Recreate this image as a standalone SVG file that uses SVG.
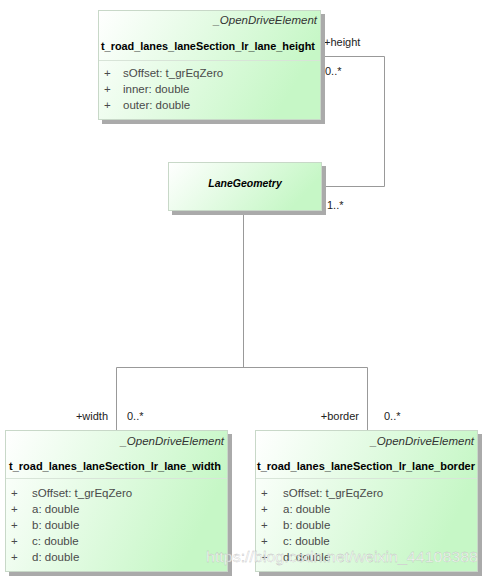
<svg xmlns="http://www.w3.org/2000/svg" width="489" height="578" viewBox="0 0 489 578">
<style>
text{font-family:"Liberation Sans",Arial,sans-serif;font-size:10.5px;fill:#222}
.st{font-style:italic;text-anchor:end;fill:#333;font-size:11.5px}
.nm{font-weight:bold;fill:#000}
.at{fill:#4a4a4a;font-size:11.5px}
.lbl{fill:#222;font-size:11px}
.box{fill:url(#g);stroke:#c8d8c8;stroke-width:1}
.sh{fill:#aaaaaa}
.sep{stroke:#d8e4d8;stroke-width:1}
.con{fill:none;stroke:#999;stroke-width:1}
.wm{fill:#ffffff;fill-opacity:0.75;font-size:15px;stroke:#bbb;stroke-width:0.3}
</style>
<defs>
<linearGradient id="g" x1="0" y1="0" x2="1" y2="0.3">
<stop offset="0" stop-color="#ffffff"/>
<stop offset="1" stop-color="#c6f7c6"/>
</linearGradient>
</defs>
<rect width="489" height="578" fill="#fff"/>
<g id="connectors">
<polyline class="con" points="321.5,56.5 384.5,56.5 384.5,186.5 322,186.5"/>
<polyline class="con" points="243.5,212 243.5,367.5"/>
<polyline class="con" points="116.5,430 116.5,367.5 367.5,367.5 367.5,430"/>
<text x="324" y="46" class="lbl">+height</text>
<text x="325" y="75" class="lbl">0..*</text>
<text x="327" y="209" class="lbl">1..*</text>
<text x="108" y="420" class="lbl" text-anchor="end">+width</text>
<text x="127" y="420" class="lbl">0..*</text>
<text x="359" y="420" class="lbl" text-anchor="end">+border</text>
<text x="384" y="420" class="lbl">0..*</text>
</g>
<g id="height">
<rect class="sh" x="102" y="14" width="223" height="110"/>
<rect class="box" x="98.5" y="10.5" width="222" height="109"/>
<line class="sep" x1="99" y1="60.5" x2="320" y2="60.5"/>
<text x="317" y="24" class="st">_OpenDriveElement</text>
<text x="101" y="50" class="nm" textLength="214" lengthAdjust="spacingAndGlyphs">t_road_lanes_laneSection_lr_lane_height</text>
<text x="104" y="77" class="at">+</text><text x="123" y="77" class="at">sOffset: t_grEqZero</text>
<text x="104" y="93" class="at">+</text><text x="123" y="93" class="at">inner: double</text>
<text x="104" y="109" class="at">+</text><text x="123" y="109" class="at">outer: double</text>
</g>
<g id="laneGeometry">
<rect class="sh" x="172" y="166" width="154" height="49"/>
<rect class="box" x="168.5" y="162.5" width="153" height="48"/>
<text x="245" y="187" class="nm" font-style="italic" text-anchor="middle">LaneGeometry</text>
</g>
<g id="width">
<rect class="sh" x="9" y="434" width="223" height="142"/>
<rect class="box" x="5.5" y="430.5" width="222" height="141"/>
<line class="sep" x1="6" y1="478.5" x2="227" y2="478.5"/>
<text x="224" y="445" class="st">_OpenDriveElement</text>
<text x="9" y="470" class="nm" textLength="212" lengthAdjust="spacingAndGlyphs">t_road_lanes_laneSection_lr_lane_width</text>
<text x="11" y="497" class="at">+</text><text x="32" y="497" class="at">sOffset: t_grEqZero</text>
<text x="11" y="513" class="at">+</text><text x="32" y="513" class="at">a: double</text>
<text x="11" y="529" class="at">+</text><text x="32" y="529" class="at">b: double</text>
<text x="11" y="545" class="at">+</text><text x="32" y="545" class="at">c: double</text>
<text x="11" y="561" class="at">+</text><text x="32" y="561" class="at">d: double</text>
</g>
<g id="border">
<rect class="sh" x="259" y="434" width="223" height="142"/>
<rect class="box" x="255.5" y="430.5" width="222" height="141"/>
<line class="sep" x1="256" y1="478.5" x2="477" y2="478.5"/>
<text x="474" y="445" class="st">_OpenDriveElement</text>
<text x="257" y="470" class="nm" textLength="218" lengthAdjust="spacingAndGlyphs">t_road_lanes_laneSection_lr_lane_border</text>
<text x="261" y="497" class="at">+</text><text x="283" y="497" class="at">sOffset: t_grEqZero</text>
<text x="261" y="513" class="at">+</text><text x="283" y="513" class="at">a: double</text>
<text x="261" y="529" class="at">+</text><text x="283" y="529" class="at">b: double</text>
<text x="261" y="545" class="at">+</text><text x="283" y="545" class="at">c: double</text>
<text x="261" y="561" class="at">+</text><text x="283" y="561" class="at">d: double</text>
</g>
<text x="206" y="562" class="wm" textLength="272" lengthAdjust="spacingAndGlyphs">https://blog.csdn.net/weixin_44108388</text>
</svg>
